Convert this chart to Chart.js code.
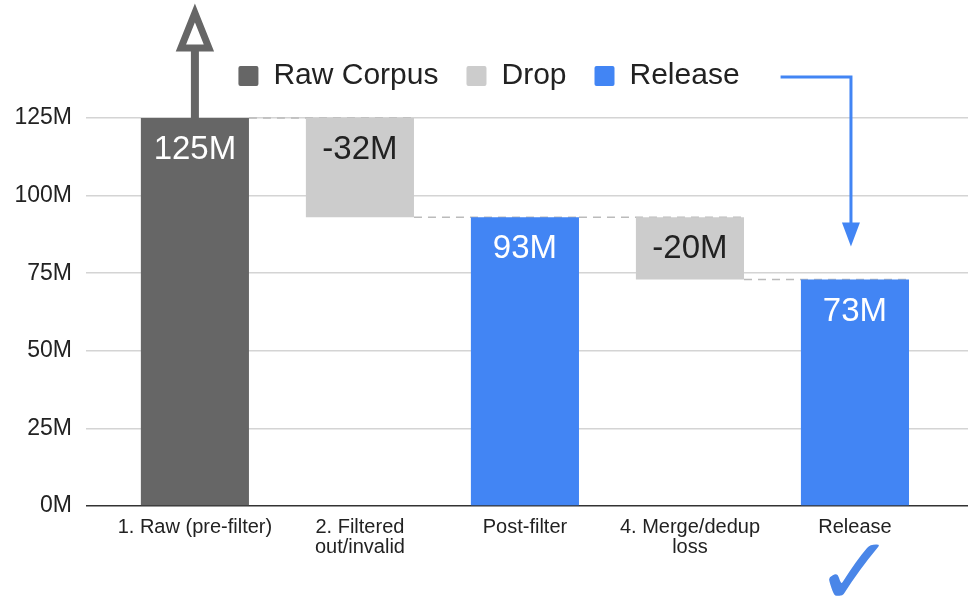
<!DOCTYPE html>
<html>
<head>
<meta charset="utf-8">
<script src="https://cdn.jsdelivr.net/npm/chart.js@4/dist/chart.umd.min.js"></script>
<style>
  html, body { margin: 0; padding: 0; background: #fff; }
  #wrap { width: 971px; height: 607px; position: relative; }
</style>
</head>
<body>
<div id="wrap"><canvas id="c"></canvas></div>
<script>
// dados do waterfall
const categorias = [['1. Raw (pre-filter)'], ['2. Filtered', 'out/invalid'], ['Post-filter'], ['4. Merge/dedup', 'loss'], ['Release']];
const rawCorpus = [[0, 125], null, null, null, null];
const drop = [null, [93, 125], null, [73, 93], null];
const release = [null, null, [0, 93], null, [0, 73]];
const nivelApos = [125, 93, 93, 73, 73]; // total acumulado depois de cada barra
const yTicks = [0, 25, 50, 75, 100, 125];

const COR_RAW = '#666666', COR_DROP = '#cccccc', COR_REL = '#4285f4';
const FONTE = '"Liberation Sans", Arial, sans-serif';

const pts = arr => arr.map((v, i) => v ? { x: i, y: v } : null).filter(Boolean);

// linhas tracejadas entre as barras
const conectores = {
  id: 'conectores',
  beforeDatasetsDraw(chart) {
    const { ctx, scales: { x, y } } = chart;
    const meia = chart.getDatasetMeta(0).data[0].width / 2;
    ctx.save();
    ctx.strokeStyle = '#bbbbbb';
    ctx.lineWidth = 1.5;
    ctx.setLineDash([8, 6]);
    for (let i = 0; i < nivelApos.length - 1; i++) {
      const yy = y.getPixelForValue(nivelApos[i]);
      ctx.beginPath();
      ctx.moveTo(x.getPixelForValue(i) + meia, yy);
      ctx.lineTo(x.getPixelForValue(i + 1) + meia, yy);
      ctx.stroke();
    }
    ctx.restore();
  }
};

// rotulos dentro das barras
const rotulos = {
  id: 'rotulos',
  afterDatasetsDraw(chart) {
    const { ctx, scales: { x, y } } = chart;
    ctx.save();
    ctx.font = '33px ' + FONTE;
    ctx.textAlign = 'center';
    ctx.textBaseline = 'middle';
    [rawCorpus, drop, release].forEach((serie, k) => {
      serie.forEach((v, i) => {
        if (!v) return;
        const txt = k === 1 ? `-${v[1] - v[0]}M` : `${v[1]}M`;
        ctx.fillStyle = k === 1 ? '#222222' : '#ffffff';
        ctx.fillText(txt, x.getPixelForValue(i), y.getPixelForValue(v[1]) + 32);
      });
    });
    ctx.restore();
  }
};

// setas e check
const anotacoes = {
  id: 'anotacoes',
  afterDraw(chart) {
    const { ctx, scales: { x, y } } = chart;
    ctx.save();
    // seta cinza saindo da barra Raw
    const cx = x.getPixelForValue(0);
    const topo = y.getPixelForValue(rawCorpus[0][1]);
    ctx.strokeStyle = COR_RAW;
    ctx.lineWidth = 8;
    ctx.beginPath();
    ctx.moveTo(cx, topo);
    ctx.lineTo(cx, 50);
    ctx.stroke();
    ctx.beginPath();
    ctx.moveTo(cx, 13);
    ctx.lineTo(cx + 14, 48);
    ctx.lineTo(cx - 14, 48);
    ctx.closePath();
    ctx.fillStyle = '#ffffff';
    ctx.fill();
    ctx.lineJoin = 'miter';
    ctx.lineWidth = 7;
    ctx.stroke();

    // seta azul da legenda ate Release
    const hb = chart.legend.legendHitBoxes[2];
    const x0 = hb.left + hb.width + 41;
    const ax = x.getPixelForValue(4) - 4;
    const ly = hb.top + hb.height / 2 + 1;
    const fim = y.getPixelForValue(release[4][1]) - 33;
    ctx.strokeStyle = COR_REL;
    ctx.fillStyle = COR_REL;
    ctx.lineWidth = 3;
    ctx.lineJoin = 'miter';
    ctx.beginPath();
    ctx.moveTo(x0, ly);
    ctx.lineTo(ax, ly);
    ctx.lineTo(ax, fim - 18);
    ctx.stroke();
    ctx.beginPath();
    ctx.moveTo(ax - 9, fim - 24);
    ctx.lineTo(ax + 9, fim - 24);
    ctx.lineTo(ax, fim);
    ctx.closePath();
    ctx.fill();

    // check embaixo de Release
    ctx.font = 'bold 96px "DejaVu Sans"';
    ctx.textAlign = 'center';
    ctx.textBaseline = 'middle';
    ctx.fillStyle = '#4a86e8';
    ctx.fillText('\u2713', x.getPixelForValue(4), 580);
    ctx.restore();
  }
};

// forca a altura da legenda para o topo do grafico ficar em 125M = y118
const alturaLegenda = {
  id: 'alturaLegenda',
  beforeInit(chart) {
    const fit = chart.legend.fit;
    chart.legend.fit = function () { fit.call(this); this.height = 85; };
  }
};

new Chart(document.getElementById('c'), {
  type: 'bar',
  data: {
    datasets: [
      { label: 'Raw Corpus', data: pts(rawCorpus), backgroundColor: COR_RAW },
      { label: 'Drop', data: pts(drop), backgroundColor: COR_DROP },
      { label: 'Release', data: pts(release), backgroundColor: COR_REL }
    ]
  },
  options: {
    responsive: true, maintainAspectRatio: false, animation: false,
    layout: { padding: { left: 10, right: 3, top: 33, bottom: 0 } },
    datasets: { bar: { grouped: false, categoryPercentage: 1, barPercentage: 0.655 } },
    plugins: {
      tooltip: { enabled: false },
      legend: {
        position: 'top',
        labels: {
          font: { size: 30, family: FONTE }, color: '#222222',
          boxWidth: 20, boxHeight: 20, padding: 28, useBorderRadius: true, borderRadius: 2,
          generateLabels: ch => ch.data.datasets.map((d, i) => ({
            text: d.label, fillStyle: d.backgroundColor, strokeStyle: d.backgroundColor,
            lineWidth: 0, datasetIndex: i, fontColor: '#222222', borderRadius: 2
          }))
        }
      }
    },
    scales: {
      x: {
        type: 'linear', min: -0.66, max: 4.685, offset: false,
        grid: { display: false, drawTicks: false }, border: { display: false },
        afterBuildTicks: s => { s.ticks = categorias.map((_, i) => ({ value: i })); },
        afterFit: s => { s.height = 101; },
        ticks: {
          autoSkip: false, maxRotation: 0, padding: 11,
          font: { size: 20, family: FONTE, lineHeight: 1.0 }, color: '#222222',
          callback: v => categorias[v] || ''
        }
      },
      y: {
        min: 0, max: 125,
        afterBuildTicks: s => { s.ticks = yTicks.map(v => ({ value: v })); },
        afterFit: s => { s.width = 76; },
        border: { display: false },
        grid: {
          drawTicks: false, lineWidth: 1.5,
          color: c => c.tick && c.tick.value === 0 ? '#333333' : '#d4d4d4'
        },
        ticks: {
          padding: 14, font: { size: 23, family: FONTE }, color: '#222222',
          callback: v => v + 'M'
        }
      }
    }
  },
  plugins: [alturaLegenda, conectores, rotulos, anotacoes]
});
</script>
</body>
</html>
